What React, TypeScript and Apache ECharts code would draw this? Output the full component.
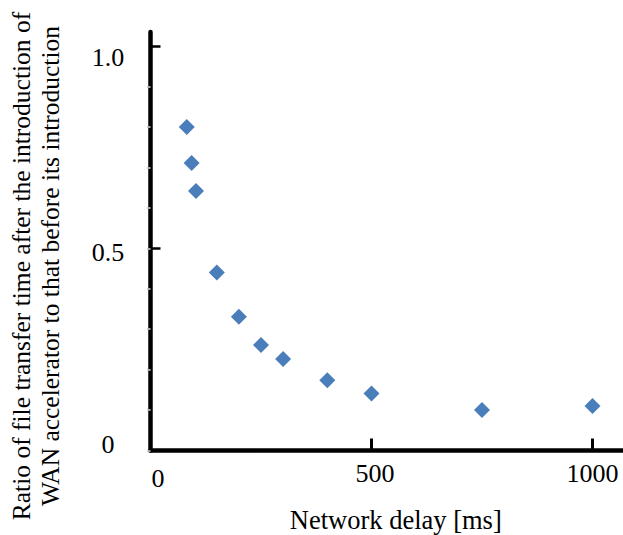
import React, { useEffect, useRef } from 'react';
import * as echarts from 'echarts';

const delayMs = [82, 93, 103, 150, 200, 250, 300, 400, 500, 750, 1000];
const ratio = [0.8, 0.711, 0.642, 0.44, 0.331, 0.261, 0.226, 0.174, 0.141, 0.1, 0.11];
const xTickValues = [0, 500, 1000];
const xTickLabels = ['0', '500', '1000'];
const xMajorTickValues = [500, 1000];
const yTickValues = [0, 0.5, 1.0];
const yTickLabels = ['0', '0.5', '1.0'];
const yMajorTickValues = [0.5, 1.0];
const yMinorTickValues = [0, 0.1, 0.2, 0.3, 0.4, 0.5, 0.6, 0.7, 0.8, 0.9];
const xAxisTitle = 'Network delay [ms]';
const yAxisTitleLines = [
  'Ratio of file transfer time after the introduction of',
  'WAN accelerator to that before its introduction',
];

const FONT = "'Liberation Serif', 'Times New Roman', Times, serif";

export default function App() {
  const ref = useRef<HTMLDivElement>(null);
  useEffect(() => {
    if (!ref.current) return;
    const chart = echarts.init(ref.current, null, { renderer: 'svg' });
    const tickFont = { fontFamily: FONT, fontSize: 26, color: '#000' };
    const xRich = {
      x0: { ...tickFont, padding: [5, 0, 0, 15] },
      x1: { ...tickFont, padding: [0, 0, 0, 7] },
      x2: { ...tickFont },
    };
    const yRich = {
      y0: { ...tickFont, padding: [0, 0, 12, 0] },
      y1: { ...tickFont, padding: [8, 0, 0, 0] },
      y2: { ...tickFont, padding: [22, 0, 0, 0] },
    };
    const option = {
      animation: false,
      backgroundColor: '#fff',
      grid: {
        left: 150.5,
        right: 0,
        top: 32,
        bottom: 84.5,
        containLabel: false,
        outerBoundsMode: 'none',
      },
      xAxis: {
        type: 'value',
        min: 0,
        max: 1069,
        name: xAxisTitle,
        nameLocation: 'middle',
        nameGap: 56,
        nameTextStyle: { fontFamily: FONT, fontSize: 26.5, color: '#000', padding: [0, 0, 0, 18] },
        axisLine: { show: true, onZero: false, lineStyle: { color: '#000', width: 4.5 } },
        axisTick: {
          show: true,
          inside: true,
          length: 12,
          customValues: xMajorTickValues,
          lineStyle: { color: '#000', width: 3 },
        },
        axisLabel: {
          show: true,
          margin: 10,
          customValues: xTickValues,
          formatter: (v: number) => {
            const i = xTickValues.indexOf(v);
            return i < 0 ? '' : `{x${i}|${xTickLabels[i]}}`;
          },
          rich: xRich,
          ...tickFont,
        },
        splitLine: { show: false },
      },
      yAxis: [
        {
          type: 'value',
          position: 'left',
          min: 0,
          max: 1.035,
          axisLine: { show: true, onZero: false, lineStyle: { color: '#000', width: 4.5 } },
          axisTick: {
            show: true,
            inside: true,
            length: 10,
            customValues: yMajorTickValues,
            lineStyle: { color: '#000', width: 2.5 },
          },
          axisLabel: {
            show: true,
            align: 'center',
            margin: 42.5,
            customValues: yTickValues,
            formatter: (v: number) => {
              const i = yTickValues.indexOf(v);
              return i < 0 ? '' : `{y${i}|${yTickLabels[i]}}`;
            },
            rich: yRich,
            ...tickFont,
          },
          splitLine: { show: false },
        },
        {
          type: 'value',
          position: 'right',
          offset: -472.5,
          min: 0,
          max: 1.035,
          axisLine: { show: false, onZero: false },
          axisTick: {
            show: true,
            inside: true,
            length: 3,
            customValues: yMinorTickValues,
            lineStyle: { color: '#a6a6a6', width: 2 },
          },
          axisLabel: { show: false },
          splitLine: { show: false },
        },
      ],
      graphic: [
        {
          type: 'text',
          x: 35.5,
          y: 266,
          rotation: Math.PI / 2,
          style: {
            text: yAxisTitleLines.join('\n'),
            fontFamily: FONT,
            fontSize: 25.5,
            fill: '#000',
            align: 'center',
            verticalAlign: 'middle',
            lineHeight: 29,
          },
        },
      ],
      series: [
        {
          type: 'scatter',
          xAxisIndex: 0,
          yAxisIndex: 0,
          symbol: 'diamond',
          symbolSize: 16,
          itemStyle: { color: '#4A7EBB', opacity: 1 },
          data: delayMs.map((d, i) => [d, ratio[i]]),
        },
      ],
    };
    chart.setOption(option as any);
    return () => chart.dispose();
  }, []);
  return (
    <div
      ref={ref}
      style={{ position: 'absolute', left: 0, top: 0, width: 623, height: 535 }}
    />
  );
}
